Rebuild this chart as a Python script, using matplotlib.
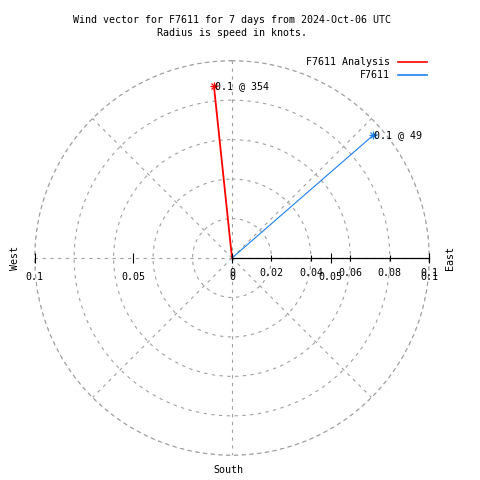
import numpy as np
import matplotlib
matplotlib.use("Agg")
import matplotlib.pyplot as plt

# ---- data ----
series_names = ["F7611 Analysis", "F7611"]
speeds = [0.0875, 0.0947]          # knots
directions = [354, 49]             # degrees (compass, from north, clockwise)
series_colors = ["#ff0000", "#1e80f0"]
series_lw = [1.3, 0.8]

r_ticks = [0.02, 0.04, 0.06, 0.08, 0.1]
r_tick_labels = ["0", "0.02", "0.04", "0.06", "0.08", "0.1"]
x_ticks = [-0.1, -0.05, 0, 0.05, 0.1]
x_tick_labels = ["0.1", "0.05", "0", "0.05", "0.1"]
r_max = 0.1

title_lines = ["Wind vector for F7611 for 7 days from 2024-Oct-06 UTC",
               "Radius is speed in knots."]

FONT = "DejaVu Sans Mono"
FS = 7.2
GRID_C = "#a0a0a0"
GRID_LS = (0, (3, 4))

W = H = 480
fig = plt.figure(figsize=(4.8, 4.8), dpi=100)

cx, cy, R = 232.0, 258.0, 197.3
rect = [(cx - R) / W, (H - (cy + R)) / H, 2 * R / W, 2 * R / H]

ax = fig.add_axes(rect, projection="polar")
ax.set_theta_zero_location("N")
ax.set_theta_direction(-1)
ax.set_rlim(0, r_max)
ax.set_rticks(r_ticks)
ax.set_yticklabels([])
ax.set_thetagrids(np.arange(0, 360, 45), labels=[""] * 8)
ax.grid(True, color=GRID_C, linestyle=GRID_LS, linewidth=0.8)
sp_polar = ax.spines["polar"]
sp_polar.set_color(GRID_C)
sp_polar.set_linestyle(GRID_LS)
sp_polar.set_linewidth(0.8)
ax.patch.set_alpha(0)

# vectors
for name, sp, d, c, lw in zip(series_names, speeds, directions, series_colors, series_lw):
    th = np.deg2rad(d)
    ax.plot([th, th], [0, sp], color=c, lw=lw, zorder=5, label=name)
    ax.plot([th], [sp], marker="+", color=c, ms=6, mew=0.9, zorder=6, clip_on=False)
    ax.plot([th], [sp], marker="x", color=c, ms=4.5, mew=0.9, zorder=6, clip_on=False)
    ax.annotate(f"{sp:.1f} @ {d}", xy=(th, sp), xytext=(1, 0), textcoords="offset points",
                ha="left", va="center", fontsize=FS, family=FONT, zorder=7,
                annotation_clip=False)

# cartesian overlay for the radius axis with ticks
ax2 = fig.add_axes(rect)
ax2.set_xlim(-r_max, r_max)
ax2.set_ylim(-r_max, r_max)
ax2.patch.set_alpha(0)
for s in ["top", "left", "right"]:
    ax2.spines[s].set_visible(False)
ax2.spines["bottom"].set_position(("data", 0))
ax2.spines["bottom"].set_bounds(0, r_max)
ax2.spines["bottom"].set_linewidth(0.9)
ax2.spines["bottom"].set_zorder(3)
ax2.set_xticks([0] + r_ticks)
ax2.set_xticklabels(r_tick_labels, fontsize=FS, family=FONT)
ax2.tick_params(axis="x", direction="inout", length=5, width=0.8, pad=4.5)
ax2.set_yticks([])

ax3 = fig.add_axes(rect)
ax3.set_xlim(-r_max, r_max)
ax3.set_ylim(-r_max, r_max)
ax3.patch.set_alpha(0)
for s in ["top", "left", "right", "bottom"]:
    ax3.spines[s].set_visible(False)
ax3.spines["bottom"].set_position(("data", 0))
ax3.set_xticks(x_ticks)
ax3.set_xticklabels(x_tick_labels, fontsize=FS, family=FONT)
ax3.tick_params(axis="x", direction="inout", length=7, width=0.8, pad=6.5)
ax3.set_yticks([])

# titles
fig.text(cx / W, 1 - 20 / H, title_lines[0], ha="center", va="center", fontsize=FS, family=FONT)
fig.text(cx / W, 1 - 33 / H, title_lines[1], ha="center", va="center", fontsize=FS, family=FONT)

# compass labels
fig.text(15 / W, 1 - 258 / H, "West", rotation=90, ha="center", va="center", fontsize=FS, family=FONT)
fig.text(450 / W, 1 - 258 / H, "East", rotation=90, ha="center", va="center", fontsize=FS, family=FONT)
fig.text(228 / W, 1 - 470 / H, "South", ha="center", va="center", fontsize=FS, family=FONT)

# legend
handles, labels = ax.get_legend_handles_labels()
leg = fig.legend(handles, labels, loc="upper right", bbox_to_anchor=(427 / W, 1 - 57 / H),
                 frameon=False, markerfirst=False, prop={"family": FONT, "size": FS},
                 handlelength=2.9, handletextpad=0.8, labelspacing=0.35, borderpad=0,
                 borderaxespad=0)
for t in leg.get_texts():
    t.set_ha("right")
leg._legend_box.align = "right"
for h in leg.legend_handles:
    h.set_linewidth(1.2)

fig.savefig("out.png", dpi=100)
